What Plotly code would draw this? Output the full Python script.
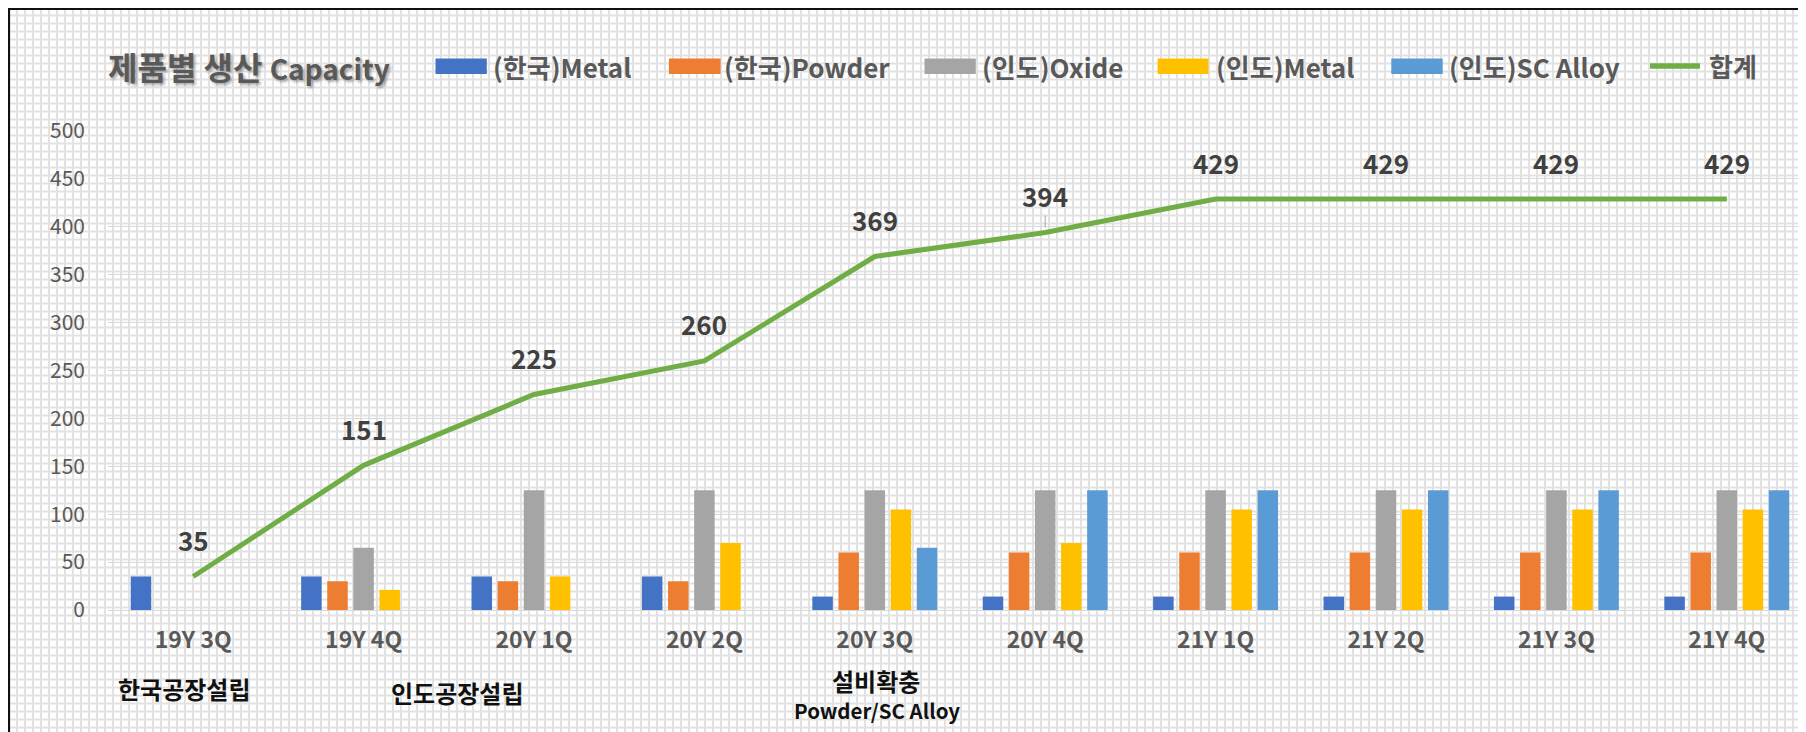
import plotly.graph_objects as go

# ---------------- data ----------------
categories = ["19Y 3Q", "19Y 4Q", "20Y 1Q", "20Y 2Q", "20Y 3Q",
              "20Y 4Q", "21Y 1Q", "21Y 2Q", "21Y 3Q", "21Y 4Q"]
kr_metal = [35, 35, 35, 35, 14, 14, 14, 14, 14, 14]
kr_powder = [None, 30, 30, 30, 60, 60, 60, 60, 60, 60]
in_oxide = [None, 65, 125, 125, 125, 125, 125, 125, 125, 125]
in_metal = [None, 21, 35, 70, 105, 70, 105, 105, 105, 105]
in_scalloy = [None, None, None, None, 65, 125, 125, 125, 125, 125]
total = [35, 151, 225, 260, 369, 394, 429, 429, 429, 429]
y_ticks = [0, 50, 100, 150, 200, 250, 300, 350, 400, 450, 500]

series_names = ["(한국)Metal", "(한국)Powder", "(인도)Oxide", "(인도)Metal", "(인도)SC Alloy"]
series_vals = [kr_metal, kr_powder, in_oxide, in_metal, in_scalloy]
series_colors = ["#4472C4", "#ED7D31", "#A5A5A5", "#FFC000", "#5B9BD5"]
total_name = "합계"
total_color = "#70AD47"

notes = ["한국공장설립", "인도공장설립", "설비확충"]
note_sub = "Powder/SC Alloy"

# ---------------- geometry (page has an 8px body margin) ----------------
OFF = 8
W, H = 1806 - OFF, 732 - OFF
ML, MR = 108 - OFF, 0
MT = 131 - OFF
MB = H - (610 - OFF)
PW, PH = W - ML - MR, H - MT - MB
CAT_PX = 170.4


def px(xr):  # reference-screen x -> paper
    return (xr - OFF - ML) / PW


def py(yr):  # reference-screen y -> paper
    return (H - MB - (yr - OFF)) / PH


FONT = "Noto Sans CJK KR"

fig = go.Figure()
for name, vals, col in zip(series_names, series_vals, series_colors):
    fig.add_trace(go.Bar(x=categories, y=vals, name=name,
                         marker=dict(color=col, line=dict(width=0)),
                         showlegend=False))
fig.add_trace(go.Scatter(x=categories, y=total, name=total_name, mode="lines",
                         line=dict(color=total_color, width=5),
                         showlegend=False))

shapes = []
# Excel cell-grid background
vpath = ""
for xx in range(9, 1806 + 8, 8):
    vpath += f"M{px(xx):.6f},{py(OFF):.6f}L{px(xx):.6f},{py(740):.6f}"
hpath = ""
for yy in range(15, 732 + 8, 8):
    hpath += f"M{px(OFF):.6f},{py(yy + 0.5):.6f}L{px(1810):.6f},{py(yy + 0.5):.6f}"
for p in (vpath, hpath):
    shapes.append(dict(type="path", path=p, xref="paper", yref="paper",
                       line=dict(color="#E2E2E2", width=2), layer="below"))
# frame lines
shapes.append(dict(type="line", xref="paper", yref="paper", x0=px(8), x1=px(1810),
                   y0=py(9), y1=py(9), line=dict(color="#111", width=2.2), layer="below"))
shapes.append(dict(type="line", xref="paper", yref="paper", x0=px(9), x1=px(9),
                   y0=py(8), y1=py(740), line=dict(color="#111", width=2.2), layer="below"))

annotations = []
# title
annotations.append(dict(
    text="<b>제품별 생산</b> <b><span style='font-size:28px'>Capacity</span></b>",
    xref="paper", yref="paper", x=px(106), y=py(66), xanchor="left", yanchor="middle",
    showarrow=False,
    font=dict(family=FONT, size=32, color="#595959", shadow="2px 2px 3px rgba(0,0,0,0.35)")))

# manual legend
leg_sw = [(435.5, 486.8, 491.0), (668.9, 720.6, 722.0), (924.5, 975.8, 980.0),
          (1157.6, 1208.5, 1213.5), (1391.3, 1442.7, 1447.0)]
for (x0, x1, tx), name, col in zip(leg_sw, series_names, series_colors):
    shapes.append(dict(type="rect", xref="paper", yref="paper", x0=px(x0), x1=px(x1),
                       y0=py(58.5), y1=py(74), fillcolor=col, line=dict(width=0)))
    annotations.append(dict(text=f"<b>{name}</b>", xref="paper", yref="paper",
                            x=px(tx), y=py(67), xanchor="left", yanchor="middle",
                            showarrow=False, font=dict(family=FONT, size=26, color="#595959")))
shapes.append(dict(type="line", xref="paper", yref="paper", x0=px(1650), x1=px(1700),
                   y0=py(66), y1=py(66), line=dict(color=total_color, width=5.5)))
annotations.append(dict(text=f"<b>{total_name}</b>", xref="paper", yref="paper",
                        x=px(1707), y=py(66), xanchor="left", yanchor="middle",
                        showarrow=False, font=dict(family=FONT, size=26, color="#595959")))

# total data labels
for c, v in zip(categories, total):
    if c == "20Y 4Q":
        annotations.append(dict(text=f"<b>{v}</b>", x=c, y=v, xref="x", yref="y",
                                showarrow=True, ax=0, ay=-37, arrowhead=0, arrowwidth=1,
                                arrowcolor="#A6A6A6", standoff=5,
                                font=dict(family=FONT, size=26, color="#404040")))
    else:
        annotations.append(dict(text=f"<b>{v}</b>", x=c, y=v, xref="x", yref="y",
                                showarrow=False, yshift=37, yanchor="middle",
                                font=dict(family=FONT, size=26, color="#404040")))

# milestone notes below axis
note_pos = [(184, 688), (457, 692), (876, 680)]
for txt, (nx, ny) in zip(notes, note_pos):
    annotations.append(dict(text=f"<b>{txt}</b>", xref="paper", yref="paper",
                            x=px(nx), y=py(ny), xanchor="center", yanchor="middle",
                            showarrow=False, font=dict(family=FONT, size=24, color="#111")))
annotations.append(dict(text=f"<b>{note_sub}</b>", xref="paper", yref="paper",
                        x=px(877), y=py(710), xanchor="center", yanchor="middle",
                        showarrow=False, font=dict(family=FONT, size=20.5, color="#111")))

fig.update_layout(
    width=W, height=H, autosize=False,
    margin=dict(l=ML, r=MR, t=MT, b=MB, pad=0),
    paper_bgcolor="white", plot_bgcolor="rgba(0,0,0,0)",
    barmode="group", bargap=0.234, bargroupgap=0.215,
    showlegend=False,
    shapes=shapes, annotations=annotations,
    font=dict(family=FONT),
    xaxis=dict(type="category", range=[-0.5, -0.5 + PW / CAT_PX],
               showgrid=False, zeroline=False, showline=False, ticks="",
               tickfont=dict(family=FONT, size=23, color="#595959", weight="bold"),
               ticklabelstandoff=14),
    yaxis=dict(range=[0, 500], tickvals=y_ticks, showgrid=True,
               gridcolor="#D9D9D9", gridwidth=1.3, zeroline=True,
               zerolinecolor="#D9D9D9", zerolinewidth=1.3, showline=False, ticks="",
               tickfont=dict(family=FONT, size=21, color="#595959"),
               ticklabelstandoff=22),
)

fig.write_html("out.html")
